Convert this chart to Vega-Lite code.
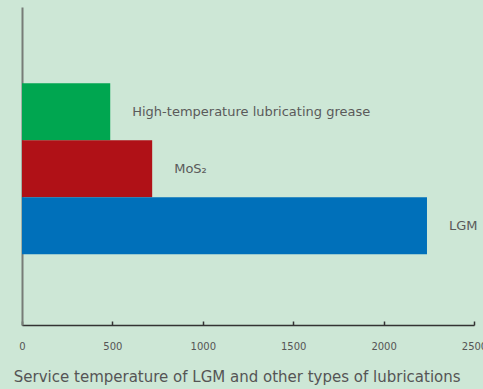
{
  "$schema": "https://vega.github.io/schema/vega-lite/v6.json",
  "width": 452,
  "height": 318,
  "autosize": {"type": "none"},
  "padding": {"left": 22, "top": 7, "right": 9, "bottom": 64},
  "background": "#cde7d6",
  "config": {"view": {"stroke": null}, "font": "DejaVu Sans"},
  "title": {
    "text": "Service temperature of LGM and other types of lubrications",
    "orient": "bottom",
    "anchor": "start",
    "fontSize": 15,
    "fontWeight": "normal",
    "color": "#555555",
    "dx": -5,
    "offset": 19
  },
  "data": {
    "values": [
      {"name": "High-temperature lubricating grease", "label": "High-temperature lubricating grease", "value": 488},
      {"name": "MoS2", "label": "MoS₂", "value": 720},
      {"name": "LGM", "label": "LGM", "value": 2240}
    ]
  },
  "encoding": {
    "y": {
      "field": "name",
      "type": "nominal",
      "scale": {
        "domain": ["_top", "High-temperature lubricating grease", "MoS2", "LGM", "_bottom"],
        "paddingInner": 0,
        "paddingOuter": 0.29,
        "align": 0.58
      },
      "axis": {"labels": false, "ticks": false, "title": null, "domainColor": "#777c77", "domainWidth": 2}
    }
  },
  "layer": [
    {
      "mark": {"type": "bar"},
      "encoding": {
        "x": {
          "field": "value",
          "type": "quantitative",
          "scale": {"domain": [0, 2500], "nice": false},
          "axis": {
            "title": null,
            "grid": false,
            "values": [0, 500, 1000, 1500, 2000, 2500],
            "format": "d",
            "domainColor": "#333333",
            "domainWidth": 1.5,
            "tickColor": "#333333",
            "tickWidth": 1.5,
            "tickSize": -4,
            "labelPadding": 20,
            "labelFontSize": 10,
            "labelColor": "#555555",
            "labelFlush": false,
            "labelOverlap": false
          }
        },
        "color": {
          "field": "name",
          "type": "nominal",
          "scale": {
            "domain": ["High-temperature lubricating grease", "MoS2", "LGM"],
            "range": ["#00a650", "#b01117", "#0070ba"]
          },
          "legend": null
        }
      }
    },
    {
      "mark": {"type": "text", "align": "left", "baseline": "middle", "dx": 22, "fontSize": 13, "color": "#5a5a5a"},
      "encoding": {
        "x": {"field": "value", "type": "quantitative"},
        "text": {"field": "label"}
      }
    }
  ]
}
